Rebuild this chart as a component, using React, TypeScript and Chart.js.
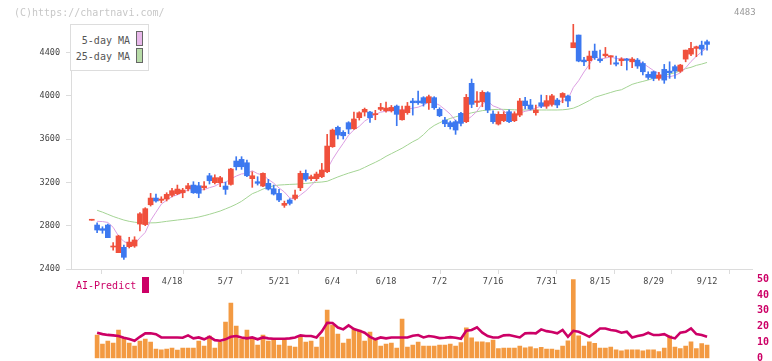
import React, { useEffect, useRef } from 'react';
import { Chart, registerables } from 'chart.js';

Chart.register(...registerables);

// ---- candle data (index 0 .. 115) ----
const openPrices = [
  2850, 2806, 2772, 2806, 2603, 2551, 2600, 2606, 2612, 2815,
  2810, 2993, 3055, 3034, 3046, 3080, 3095, 3104, 3141, 3175,
  3169, 3150, 3261, 3197, 3197, 3166, 3181, 3397, 3412, 3381,
  3234, 3206, 3166, 3191, 3141, 3098, 2988, 3037, 3052, 3150,
  3283, 3234, 3234, 3252, 3298, 3529, 3708, 3662, 3751, 3695,
  3797, 3849, 3849, 3825, 3874, 3861, 3861, 3904, 3778, 3843,
  3951, 3951, 3982, 3935, 3982, 3874, 3775, 3751, 3760, 3837,
  3760, 4114, 3938, 3944, 4028, 3831, 3738, 3769, 3852, 3769,
  3821, 3951, 3914, 3843, 3935, 3904, 3920, 3960, 3985, 3997,
  4443, 4560, 4329, 4323, 4412, 4338, 4369, 4360, 4304, 4323,
  4338, 4313, 4329, 4298, 4197, 4221, 4160, 4243, 4227, 4268,
  4227, 4338, 4384, 4437, 4467, 4498,
];
const highPrices = [
  2850, 2827, 2790, 2815, 2643, 2712, 2621, 2693, 2698, 2920,
  2966, 3098, 3092, 3067, 3104, 3145, 3175, 3145, 3191, 3206,
  3200, 3206, 3283, 3270, 3255, 3203, 3329, 3437, 3437, 3406,
  3298, 3252, 3289, 3228, 3175, 3135, 3027, 3049, 3129, 3304,
  3314, 3268, 3295, 3375, 3643, 3692, 3720, 3677, 3760, 3849,
  3852, 3886, 3855, 3865, 3929, 3941, 3910, 3914, 3904, 3938,
  3975, 4043, 3991, 4006, 3991, 3889, 3800, 3766, 3775, 3846,
  4012, 4154, 4037, 4046, 4037, 3861, 3852, 3852, 3870, 3852,
  3975, 3985, 3966, 3914, 4006, 4003, 4012, 3975, 4028, 4006,
  4661, 4560, 4354, 4412, 4477, 4421, 4446, 4369, 4366, 4351,
  4344, 4351, 4344, 4313, 4221, 4227, 4215, 4289, 4313, 4283,
  4289, 4421, 4492, 4458, 4504, 4514,
];
const lowPrices = [
  2850, 2735, 2730, 2689, 2575, 2551, 2489, 2594, 2600, 2751,
  2800, 2981, 3016, 3012, 3028, 3065, 3086, 3058, 3120, 3098,
  3058, 3129, 3185, 3185, 3160, 3089, 3175, 3314, 3320, 3252,
  3154, 3175, 3160, 3129, 3083, 3021, 2969, 2991, 3037, 3123,
  3212, 3215, 3215, 3243, 3289, 3523, 3600, 3600, 3649, 3689,
  3775, 3812, 3754, 3778, 3861, 3849, 3849, 3723, 3775, 3828,
  3821, 3920, 3904, 3874, 3874, 3806, 3714, 3692, 3643, 3720,
  3751, 3889, 3898, 3898, 3843, 3745, 3729, 3760, 3750, 3760,
  3806, 3877, 3868, 3821, 3889, 3883, 3904, 3889, 3935, 3898,
  4443, 4313, 4277, 4246, 4335, 4307, 4354, 4289, 4274, 4277,
  4237, 4258, 4252, 4191, 4151, 4138, 4144, 4114, 4160, 4160,
  4215, 4313, 4369, 4360, 4375, 4421,
];
const closePrices = [
  2850, 2760, 2757, 2689, 2610, 2705, 2508, 2649, 2668, 2910,
  2957, 3055, 3028, 3046, 3089, 3123, 3138, 3129, 3169, 3104,
  3099, 3166, 3215, 3243, 3243, 3135, 3323, 3344, 3344, 3261,
  3261, 3191, 3283, 3138, 3092, 3037, 3006, 3006, 3083, 3283,
  3228, 3252, 3277, 3314, 3535, 3683, 3637, 3630, 3692, 3785,
  3843, 3874, 3797, 3834, 3892, 3886, 3892, 3828, 3868, 3904,
  3935, 3935, 3930, 3991, 3889, 3815, 3741, 3714, 3683, 3745,
  3985, 3920, 3951, 4031, 3868, 3760, 3828, 3828, 3760, 3834,
  3951, 3908, 3877, 3868, 3904, 3954, 3999, 3914, 4021, 3951,
  4489, 4320, 4313, 4366, 4351, 4323, 4384, 4366, 4292, 4338,
  4326, 4338, 4274, 4221, 4169, 4160, 4191, 4144, 4212, 4227,
  4283, 4421, 4437, 4452, 4430, 4474,
];

// ---- moving averages ----
const ma5Values = [
  null, 2840, 2838, 2830, 2785, 2704, 2654, 2632, 2628, 2688,
  2738, 2848, 2924, 2999, 3035, 3068, 3085, 3105, 3130, 3133,
  3128, 3133, 3151, 3165, 3193, 3200, 3232, 3258, 3278, 3281,
  3307, 3280, 3268, 3227, 3193, 3148, 3111, 3056, 3045, 3083,
  3121, 3170, 3225, 3271, 3321, 3412, 3489, 3560, 3635, 3685,
  3717, 3765, 3798, 3827, 3848, 3857, 3860, 3866, 3873, 3876,
  3885, 3894, 3914, 3939, 3936, 3912, 3873, 3830, 3768, 3740,
  3774, 3809, 3857, 3926, 3951, 3906, 3888, 3863, 3809, 3802,
  3840, 3856, 3866, 3888, 3902, 3902, 3920, 3928, 3958, 3968,
  4075, 4139, 4219, 4288, 4368, 4335, 4347, 4358, 4343, 4341,
  4341, 4332, 4314, 4299, 4266, 4232, 4203, 4177, 4175, 4187,
  4211, 4257, 4316, 4364, 4405, 4443,
];
const ma25Values = [
  null, 2942, 2925, 2905, 2885, 2868, 2852, 2840, 2832, 2827,
  2826, 2826, 2827, 2833, 2840, 2846, 2852, 2858, 2864, 2871,
  2880, 2892, 2905, 2920, 2935, 2955, 2975, 2998, 3025, 3060,
  3095, 3115, 3138, 3155, 3168, 3175, 3178, 3181, 3183, 3186,
  3190, 3195, 3200, 3203, 3210, 3230, 3250, 3268, 3285, 3300,
  3315, 3338, 3362, 3385, 3410, 3440, 3465, 3490, 3515, 3545,
  3575, 3600, 3640, 3690, 3725, 3750, 3772, 3790, 3805, 3818,
  3830, 3842, 3852, 3862, 3868, 3872, 3874, 3874, 3872, 3870,
  3868, 3868, 3868, 3868, 3868, 3868, 3868, 3868, 3870, 3875,
  3885, 3905, 3930, 3955, 3985, 4000, 4015, 4030, 4045, 4055,
  4080, 4105, 4120, 4132, 4145, 4160, 4175, 4188, 4200, 4212,
  4228, 4250, 4262, 4280, 4292, 4307,
];

// ---- lower panel ----
const volumeValues = [
  null, 14.7, 9.0, 10.9, 9.7, 17.9, 13.2, 9.7, 7.8, 10.9,
  12.2, 10.3, 5.9, 5.4, 5.9, 6.5, 5.2, 6.5, 6.5, 6.5,
  10.9, 7.8, 14.1, 6.5, 10.3, 22.9, 34.9, 20.4, 12.2, 17.9,
  12.2, 8.4, 14.7, 10.9, 12.2, 8.4, 11.5, 7.8, 7.1, 13.4,
  10.3, 10.9, 7.1, 13.4, 30.5, 21.0, 15.3, 9.7, 12.2, 18.5,
  17.9, 10.9, 16.6, 11.5, 7.8, 9.0, 9.7, 6.5, 24.8, 7.1,
  8.4, 10.3, 7.8, 7.8, 7.8, 8.4, 8.4, 9.0, 7.8, 9.9,
  19.3, 13.0, 10.5, 10.5, 9.9, 11.5, 6.1, 6.5, 6.5, 6.5,
  7.8, 6.7, 7.3, 6.1, 6.9, 5.9, 5.9, 5.2, 7.8, 11.1,
  50, 14.3, 7.8, 10.5, 9.5, 6.5, 6.5, 7.1, 5.4, 4.8,
  5.4, 5.4, 5.4, 4.8, 5.4, 5.4, 4.2, 6.5, 14.3, 7.1,
  6.1, 7.8, 10.5, 6.1, 9.3, 8.4,
];
const aiPredictValues = [
  null, 16.2, 15.3, 14.8, 14.5, 14.1, 13.0, 12.2, 11.1, 13.6,
  15.8, 15.8, 15.3, 13.2, 13.2, 13.2, 13.2, 13.0, 14.5, 12.6,
  13.2, 12.0, 13.6, 11.5, 11.1, 12.0, 13.6, 14.1, 13.2, 12.6,
  13.2, 12.0, 13.2, 12.6, 12.4, 12.4, 12.4, 12.6, 13.2, 14.5,
  14.1, 14.1, 13.2, 17.0, 22.5, 22.3, 19.5, 18.3, 20.8, 18.5,
  17.5, 16.2, 13.6, 12.0, 13.2, 12.6, 13.2, 13.2, 13.2, 13.2,
  14.3, 14.7, 13.2, 14.1, 13.6, 12.8, 13.0, 13.4, 13.0, 12.4,
  17.4, 17.9, 19.6, 16.2, 14.1, 13.2, 13.2, 14.5, 14.7, 14.0,
  13.2, 15.8, 16.0, 15.8, 18.3, 17.2, 16.6, 15.8, 17.9, 13.6,
  17.4, 16.8, 15.3, 13.6, 16.2, 18.9, 18.9, 17.9, 17.4, 16.2,
  16.8, 13.2, 14.1, 14.7, 16.2, 14.7, 14.7, 15.3, 13.5, 12.6,
  16.2, 16.8, 18.9, 15.3, 14.7, 13.6,
];

// ---- tick labels ----
const dateTickIndex = [15, 25, 35, 45, 55, 65, 75, 85, 95, 105, 115];
const dateTickLabels = ['4/18', '5/7', '5/21', '6/4', '6/18', '7/2', '7/16', '7/31', '8/15', '8/29', '9/12'];
const priceTicks = [2400, 2800, 3200, 3600, 4000, 4400];
const volumeTicks = [0, 10, 20, 30, 40, 50];

const X_MIN = -3.88;
const X_MAX = 123.4;
const UP = '#f0503c';
const DOWN = '#3c78f0';
const MONO = '"DejaVu Sans Mono", monospace';
const AXIS = '#dcdcdc';
const MAGENTA = '#cc0066';

export default function App() {
  const topRef = useRef<HTMLCanvasElement>(null);
  const botRef = useRef<HTMLCanvasElement>(null);

  useEffect(() => {
    const idx = closePrices.map((_, i) => i);
    const colors = idx.map((i) => (closePrices[i] >= openPrices[i] ? UP : DOWN));
    const gridTicks = Array.from({ length: 12 }, (_, k) => X_MIN + (k * (X_MAX - X_MIN)) / 11);
    const pts = (arr: (number | null)[]) =>
      arr.map((v, i) => (v == null ? null : { x: i, y: v })).filter((p) => p !== null);

    const top = new Chart(topRef.current as HTMLCanvasElement, {
      type: 'bar',
      data: {
        datasets: [
          {
            type: 'bar',
            label: 'body',
            data: idx.map((i) => ({ x: i, y: [openPrices[i], closePrices[i]] })) as any,
            backgroundColor: colors,
            barThickness: 5,
            minBarLength: 1,
            grouped: false,
            order: 1,
          },
          {
            type: 'bar',
            label: 'wick',
            data: idx.map((i) => ({ x: i, y: [lowPrices[i], highPrices[i]] })) as any,
            backgroundColor: colors,
            barThickness: 1,
            minBarLength: 1,
            grouped: false,
            order: 2,
          },
          {
            type: 'line',
            label: '5-day MA',
            data: pts(ma5Values) as any,
            borderColor: '#dc9ee2',
            borderWidth: 1,
            pointRadius: 0,
            order: 3,
          },
          {
            type: 'line',
            label: '25-day MA',
            data: pts(ma25Values) as any,
            borderColor: '#a4d494',
            borderWidth: 1,
            pointRadius: 0,
            order: 4,
          },
        ],
      },
      options: {
        responsive: false,
        animation: false,
        layout: { padding: { top: 24, right: 20, left: 0, bottom: 0 } },
        plugins: { legend: { display: false }, tooltip: { enabled: false } },
        scales: {
          x: {
            type: 'linear',
            min: X_MIN,
            max: X_MAX,
            offset: false,
            position: 'bottom',
            afterBuildTicks: (s: any) => {
              s.ticks = [...gridTicks, ...dateTickIndex].sort((a, b) => a - b).map((v) => ({ value: v }));
            },
            afterFit: (s: any) => {
              s.height = 31;
              s.paddingLeft = 0;
              s.paddingRight = 0;
            },
            grid: {
              drawOnChartArea: false,
              drawTicks: true,
              tickLength: 5,
              tickColor: (c: any) =>
                c.tick && dateTickIndex.includes(c.tick.value) ? 'rgba(0,0,0,0)' : AXIS,
            },
            border: { color: AXIS },
            ticks: {
              autoSkip: false,
              maxRotation: 0,
              minRotation: 0,
              padding: 3,
              font: { family: MONO, size: 8.5 },
              color: '#444',
              callback: (v: any) => {
                const k = dateTickIndex.indexOf(v);
                return k >= 0 ? dateTickLabels[k] : '';
              },
            },
          },
          y: {
            type: 'linear',
            position: 'left',
            min: 2400,
            max: 4662,
            afterBuildTicks: (s: any) => {
              s.ticks = priceTicks.map((v) => ({ value: v }));
            },
            afterFit: (s: any) => {
              s.width = 71;
              s.paddingTop = 0;
              s.paddingBottom = 0;
            },
            grid: { drawOnChartArea: false, drawTicks: true, tickLength: 5, tickColor: AXIS },
            border: { color: AXIS },
            ticks: {
              padding: 6,
              font: { family: MONO, size: 8.5 },
              color: '#444',
              callback: (v: any) => String(v),
            },
          },
        },
      },
    });

    const bottom = new Chart(botRef.current as HTMLCanvasElement, {
      type: 'bar',
      data: {
        datasets: [
          {
            type: 'line',
            label: 'AI-Predict',
            data: pts(aiPredictValues) as any,
            borderColor: MAGENTA,
            borderWidth: 2.6,
            pointRadius: 0,
            order: 0,
          },
          {
            type: 'bar',
            label: 'volume',
            data: pts(volumeValues) as any,
            backgroundColor: '#f39a42',
            barThickness: 4,
            order: 1,
          },
        ],
      },
      options: {
        responsive: false,
        animation: false,
        layout: { padding: { left: 71, top: 9.3, bottom: 2.7, right: 0 } },
        plugins: { legend: { display: false }, tooltip: { enabled: false } },
        scales: {
          x: { type: 'linear', min: X_MIN, max: X_MAX, offset: false, display: false },
          y: {
            type: 'linear',
            position: 'right',
            min: 0,
            max: 50,
            afterBuildTicks: (s: any) => {
              s.ticks = volumeTicks.map((v) => ({ value: v }));
            },
            afterFit: (s: any) => {
              s.width = 20;
              s.paddingTop = 0;
              s.paddingBottom = 0;
            },
            grid: { display: false, drawTicks: false },
            border: { display: false },
            ticks: {
              padding: 5,
              font: { family: MONO, size: 10, weight: 'bold' },
              color: MAGENTA,
              callback: (v: any) => String(v),
            },
          },
        },
      },
    });

    return () => {
      top.destroy();
      bottom.destroy();
    };
  }, []);

  const mono: React.CSSProperties = { fontFamily: MONO, position: 'absolute', whiteSpace: 'nowrap' };

  return (
    <div style={{ position: 'absolute', left: 0, top: 0, width: 772, height: 361, background: '#fff', overflow: 'hidden' }}>
      <canvas ref={topRef} width={772} height={300} style={{ position: 'absolute', left: 0, top: 0 }} />
      <canvas ref={botRef} width={772} height={91} style={{ position: 'absolute', left: 0, top: 270 }} />
      <div style={{ ...mono, left: 14, top: 7, height: 11, lineHeight: '11px', fontSize: 10, color: '#c8c8c8' }}>
        (C)https://chartnavi.com/
      </div>
      <div style={{ ...mono, left: 734, top: 7, height: 11, lineHeight: '11px', fontSize: 9, color: '#999' }}>4483</div>
      <div
        style={{
          position: 'absolute',
          left: 70,
          top: 24,
          width: 79,
          height: 47,
          boxSizing: 'border-box',
          border: '1px solid #ddd',
          background: '#fff',
        }}
      >
        <div style={{ ...mono, left: 0, width: 59, textAlign: 'right', top: 10, height: 11, lineHeight: '11px', fontSize: 10, color: '#555' }}>
          5-day MA
        </div>
        <div style={{ position: 'absolute', left: 65, top: 6, width: 7, height: 15, boxSizing: 'border-box', border: '1px solid #666', background: '#e8b8ea' }} />
        <div style={{ ...mono, left: 0, width: 59, textAlign: 'right', top: 26, height: 11, lineHeight: '11px', fontSize: 10, color: '#555' }}>
          25-day MA
        </div>
        <div style={{ position: 'absolute', left: 65, top: 23, width: 7, height: 15, boxSizing: 'border-box', border: '1px solid #666', background: '#b8dca8' }} />
      </div>
      <div style={{ ...mono, left: 76, top: 280, height: 11, lineHeight: '11px', fontSize: 10, color: MAGENTA }}>AI-Predict</div>
      <div style={{ position: 'absolute', left: 142, top: 277, width: 7, height: 16, background: MAGENTA }} />
    </div>
  );
}
